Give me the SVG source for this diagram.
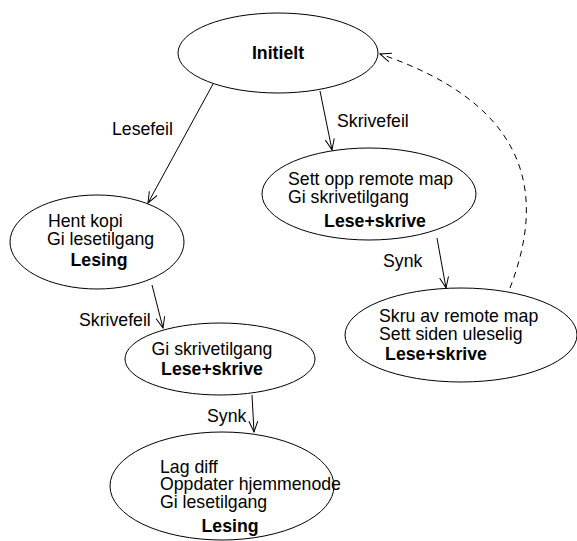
<svg xmlns="http://www.w3.org/2000/svg" width="577" height="541" viewBox="0 0 577 541">
<style>
.n{fill:#fff;stroke:#000;stroke-width:1}
text{font-family:"Liberation Sans",Arial,sans-serif;font-size:17.7px;fill:#000}
.b{font-weight:bold;text-anchor:middle}
.e{fill:none;stroke:#000;stroke-width:1}
.d{stroke-dasharray:6,5}
</style>
<defs>
<marker id="a" markerUnits="userSpaceOnUse" markerWidth="14" markerHeight="12" refX="11" refY="5" orient="auto">
<path d="M0,0.5 L11,5 L0,9.5" fill="none" stroke="#000" stroke-width="1"/>
</marker>
</defs>
<rect width="577" height="541" fill="#fff"/>
<g id="connectors">
<line class="e" x1="213" y1="84" x2="148" y2="203" marker-end="url(#a)"/>
<line class="e" x1="320" y1="91" x2="332" y2="150" marker-end="url(#a)"/>
<line class="e" x1="437" y1="238" x2="446" y2="288" marker-end="url(#a)"/>
<line class="e" x1="152" y1="285" x2="163" y2="328" marker-end="url(#a)"/>
<line class="e" x1="252" y1="395" x2="254" y2="432" marker-end="url(#a)"/>
<path class="e d" d="M510,288 C540,210 545,110 380,54" marker-end="url(#a)"/>
<text x="112" y="135">Lesefeil</text>
<text x="337" y="127">Skrivefeil</text>
<text x="383" y="267">Synk</text>
<text x="79" y="326">Skrivefeil</text>
<text x="207" y="422">Synk</text>
</g>
<g id="initielt">
<ellipse class="n" cx="278" cy="53" rx="100" ry="40"/>
<text class="b" x="278" y="59">Initielt</text>
</g>
<g id="hent">
<ellipse class="n" cx="97" cy="242" rx="87" ry="47"/>
<text x="48" y="227">Hent kopi</text>
<text x="47" y="245">Gi lesetilgang</text>
<text class="b" x="99" y="266">Lesing</text>
</g>
<g id="settopp">
<ellipse class="n" cx="369" cy="194" rx="107" ry="46"/>
<text x="288" y="185">Sett opp remote map</text>
<text x="288" y="203">Gi skrivetilgang</text>
<text class="b" x="375" y="227">Lese+skrive</text>
</g>
<g id="skru">
<ellipse class="n" cx="461" cy="335" rx="116" ry="47"/>
<text x="379" y="322">Skru av remote map</text>
<text x="379" y="340">Sett siden uleselig</text>
<text class="b" x="436" y="360">Lese+skrive</text>
</g>
<g id="giskrive">
<ellipse class="n" cx="220" cy="359" rx="95" ry="36"/>
<text class="b" x="212" y="355" style="font-weight:normal">Gi skrivetilgang</text>
<text class="b" x="212" y="375">Lese+skrive</text>
</g>
<g id="lagdiff">
<ellipse class="n" cx="222" cy="486" rx="112" ry="54"/>
<text x="160" y="473">Lag diff</text>
<text x="160" y="490">Oppdater hjemmenode</text>
<text x="160" y="508">Gi lesetilgang</text>
<text class="b" x="230" y="532">Lesing</text>
</g>
</svg>
